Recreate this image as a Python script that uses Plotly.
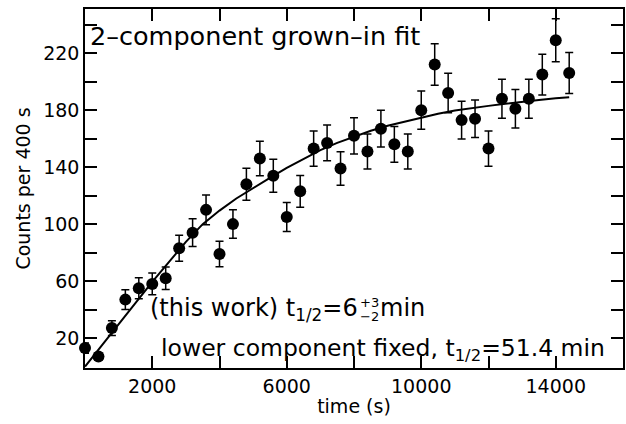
import plotly.graph_objects as go

# ---- data ----
time_s = [0, 400, 800, 1200, 1600, 2000, 2400, 2800, 3200, 3600, 4000, 4400, 4800,
          5200, 5600, 6000, 6400, 6800, 7200, 7600, 8000, 8400, 8800, 9200, 9600, 10000,
          10400, 10800, 11200, 11600, 12000, 12400, 12800, 13200, 13600, 14000, 14400]
counts = [13, 7, 27, 47, 55, 58, 62, 83, 94, 110, 79, 100, 128,
          146, 134, 105, 123, 153, 157, 139, 162, 151, 167, 156, 151, 180,
          212, 192, 173, 174, 153, 188, 181, 188, 205, 229, 206]
count_err = [3.6, 2.6, 5.2, 6.9, 7.4, 7.6, 7.9, 9.1, 9.7, 10.5, 8.9, 10.0, 11.3,
             12.1, 11.6, 10.2, 11.1, 12.4, 12.5, 11.8, 12.7, 12.3, 12.9, 12.5, 12.3, 13.4,
             14.6, 13.9, 13.2, 13.2, 12.4, 13.7, 13.5, 13.7, 14.3, 15.1, 14.4]

fit_time = [0, 500, 1000, 1500, 2000, 2500, 3000, 3500, 4000, 4500, 5000, 5500, 6000,
            6500, 7000, 7500, 8000, 8500, 9000, 9500, 10000, 10500, 11000, 11500, 12000,
            12500, 13000, 13500, 14000, 14400]
fit_counts = [0, 15, 30, 45, 59.5, 73.5, 87.5, 100, 109.5, 118, 125.5, 132.5, 139.5,
              146, 152, 157, 161.5, 165.5, 169, 172, 175, 177.5, 179.7, 181.5, 183,
              184.5, 186, 187.2, 188.3, 189]

x_ticks = [0, 2000, 4000, 6000, 8000, 10000, 12000, 14000, 16000]
x_labels = ["", "2000", "", "6000", "", "10000", "", "14000", ""]
y_ticks = [20, 40, 60, 80, 100, 120, 140, 160, 180, 200, 220, 240]
y_labels = ["20", "", "60", "", "100", "", "140", "", "180", "", "220", ""]

FONT = "DejaVu Sans"

fig = go.Figure()
fig.add_trace(go.Scatter(
    x=fit_time, y=fit_counts, mode="lines",
    line=dict(color="black", width=2), hoverinfo="skip"))
fig.add_trace(go.Scatter(
    x=time_s, y=counts, mode="markers",
    marker=dict(color="black", size=12),
    error_y=dict(type="data", array=count_err, color="black", thickness=1.5, width=4),
    cliponaxis=False))

# plot area in pixels: x 85..623, y 9..368
def px(xp):
    return (xp - 85) / 538.0

def py(yp):
    return (368 - yp) / 359.0

ann = []
ann.append(dict(text="2\u2013component grown\u2013in fit", x=px(89), y=py(20),
                xanchor="left", yanchor="top", font=dict(size=25.5)))
ann.append(dict(text="(this work) t<sub>1/2</sub>=6", x=px(358.5), y=py(293),
                xanchor="right", yanchor="top", font=dict(size=24)))
ann.append(dict(text="+3", x=px(358.7), y=py(302), xanchor="left", yanchor="middle",
                font=dict(size=13)))
ann.append(dict(text="\u22122", x=px(358.7), y=py(316), xanchor="left", yanchor="middle",
                font=dict(size=13)))
ann.append(dict(text="min", x=px(379), y=py(293), xanchor="left", yanchor="top",
                font=dict(size=24)))
ann.append(dict(text="lower component fixed, t<sub>1/2</sub>=51.4 min", x=px(606), y=py(333),
                xanchor="right", yanchor="top", font=dict(size=23.5)))
for a in ann:
    a.update(xref="paper", yref="paper", showarrow=False, borderpad=0)
    a["font"].update(family=FONT, color="black")

axis_common = dict(
    showline=True, linecolor="black", linewidth=1.5, mirror="ticks",
    ticks="inside", ticklen=12, tickwidth=1.5, tickcolor="black",
    showgrid=False, zeroline=False,
    tickfont=dict(family=FONT, size=19, color="black"),
)

fig.update_layout(
    width=626, height=424,
    margin=dict(l=85, r=3, t=9, b=56, autoexpand=False),
    paper_bgcolor="white", plot_bgcolor="white",
    showlegend=False,
    annotations=ann,
    xaxis=dict(range=[0, 16000], tickmode="array", tickvals=x_ticks, ticktext=x_labels,
               title=dict(text="time (s)", font=dict(family=FONT, size=19, color="black"),
                          standoff=4),
               **axis_common),
    yaxis=dict(range=[-1, 251], tickmode="array", tickvals=y_ticks, ticktext=y_labels,
               title=dict(text="Counts per 400 s", font=dict(family=FONT, size=19, color="black"),
                          standoff=8),
               **axis_common),
)

fig.write_html("out.html", config={"displayModeBar": False},
               post_script="document.body.style.margin='0';document.body.style.overflow='hidden';")
